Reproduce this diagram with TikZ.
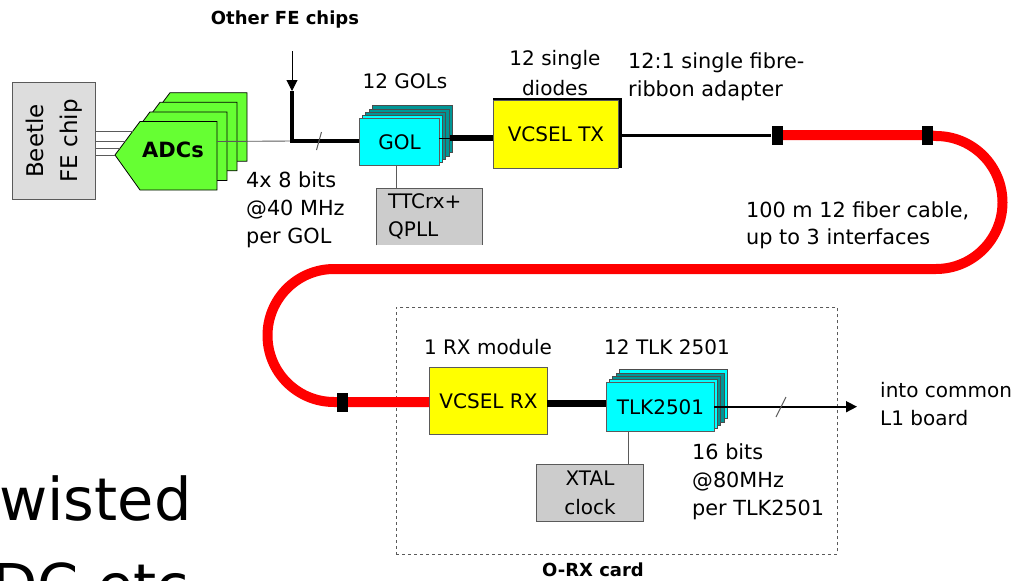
\documentclass[tikz,border=0pt]{standalone}
\usepackage{fontspec}
\setmainfont{DejaVu Sans}
\usetikzlibrary{arrows.meta}
\definecolor{adcg}{RGB}{102,255,51}
\definecolor{chipc}{RGB}{0,255,255}
\definecolor{chipt}{RGB}{0,150,150}
\definecolor{vy}{RGB}{255,255,0}
\definecolor{lg}{RGB}{221,221,221}
\definecolor{mg}{RGB}{204,204,204}
\definecolor{edge}{RGB}{90,90,90}
\tikzset{
 x=1pt,y=-1pt,
 boxn/.style={draw=edge,line width=1pt,inner sep=0pt,anchor=north west,align=center},
 lab/.style={inner sep=0pt,font=\fontsize{20}{28}\selectfont,align=left},
 labw/.style={inner sep=0pt,font=\fontsize{20.8}{28}\selectfont,align=left,anchor=base west},
 labc/.style={lab,align=center},
 labb/.style={inner sep=0pt,font=\fontsize{18}{24}\selectfont\bfseries},
 wire/.style={draw=edge,line width=.9pt},
 fibre/.style={draw=red,line width=10pt},
 conn/.style={fill=black,inner sep=0pt,minimum width=11pt,minimum height=19pt},
 slash/.style={draw=edge,line width=1pt},
 tip/.style={-{Triangle[length=11pt,width=11pt]}},
}
\begin{document}
\begin{tikzpicture}
\useasboundingbox (0,0) rectangle (1013,581);
\clip (0,0) rectangle (1013,581);
% dashed card
\node[draw=edge,dashed,line width=.9pt,inner sep=0pt,anchor=north west,minimum width=441pt,minimum height=247pt] (card) at (396,307) {};
% Beetle
\node[boxn,fill=lg,minimum width=83pt,minimum height=117pt] (beetle) at (12,82) {};
\node[rotate=90,labc,font=\fontsize{23}{34}\selectfont] (beetlet) at (beetle.center) {Beetle\\FE chip};
% ADC stack
\foreach \d in {3,2,1,0}{
 \draw[fill=adcg,draw=black,line width=.8pt,shift={(10*\d,-9.6*\d)}] (115,155) -- (140,121.5) -- (217,121.5) -- (217,190) -- (140,190) -- cycle;
}
\node[labb,font=\fontsize{21}{26}\selectfont\bfseries] (adc) at (173,150) {ADCs};
\foreach \n/\ya/\xa in {1/131/133,2/141/125.5,3/148/120,4/155/115}{
 \coordinate (a\n) at (\xa,\ya);
 \draw[wire] (a\n) -- (beetle.east |- a\n);
}
% GOL stack
\foreach \d/\c in {13/chipt,9.5/chipt,6/chipt,3/chipc}{
 \node[boxn,draw=black!70,line width=.6pt,fill=\c,minimum width=80pt,minimum height=47pt] at (359+\d,118-\d) {};
}
\node[boxn,fill=chipc,minimum width=80pt,minimum height=47pt,font=\fontsize{20}{24}\selectfont] (gol) at (359,118) {GOL};
\node[inner sep=0pt,fill=mg,anchor=north west,minimum width=106pt,minimum height=57pt] (ttc) at (376,188) {};
\draw[draw=edge,line width=1pt] (ttc.south west) -- (ttc.north west) -- (ttc.north east) -- (ttc.south east);
\node[lab,anchor=base west] (ttct) at (388,208) {TTCrx+};
\node[lab,anchor=base west] (qpll) at (388,236) {QPLL};
\coordinate (golb) at (396,165);
\draw[wire] (golb) -- (golb |- ttc.north);
% VCSEL TX
\node[fill=black,inner sep=0pt,anchor=north west,minimum width=129pt,minimum height=70pt] (txb) at (493,97.5) {};
\node[boxn,fill=vy,minimum width=125pt,minimum height=68pt,font=\fontsize{20}{24}\selectfont] (tx) at (493,99.5) {VCSEL TX};
% input wires
\coordinate (merge) at (292,141);
\coordinate (otherS) at (292,51);
\coordinate (otherE) at (292,91);
\draw[wire] (217,141.5) -- (merge);
\draw[line width=1pt,tip] (otherS) -- (otherE);
\draw[line width=4pt] (otherE) -- (merge);
\draw[line width=4pt] (290,141) -- (gol.west |- merge);
\coordinate (s1a) at (321.5,132); \coordinate (s1b) at (316.5,150);
\draw[slash] (s1a) -- (s1b);
\coordinate (g1) at (439,138);
\draw[line width=6.5pt] (450,138) -- (tx.west |- g1);
\draw[line width=1pt] (g1) -- (450,138);
% fibre
\node[conn] (c1) at (777,135) {};
\node[conn] (c2) at (927,135) {};
\node[conn] (c3) at (342.5,402) {};
\draw[line width=3pt] (txb.east |- c1) -- (c1.west);
% VCSEL RX
\node[boxn,fill=vy,minimum width=118pt,minimum height=67pt,font=\fontsize{20}{24}\selectfont] (rx) at (429,367) {VCSEL RX};
\draw[fibre] (c1.center) -- (c2.center) -- (936,136) arc[start angle=-90,end angle=90,radius=66.5] -- (334,269) arc[start angle=-90,end angle=-270,radius=66.5] -- (rx.west |- c3);
\node[conn] at (c1) {};
\node[conn] at (c2) {};
\node[conn] at (c3) {};
% TLK stack
\foreach \d/\c in {13/chipc,9.5/chipt,6/chipt,3/chipc}{
 \node[boxn,draw=black!70,line width=.6pt,fill=\c,minimum width=108pt,minimum height=49pt] at (606+\d,382-\d) {};
}
\node[boxn,fill=chipc,minimum width=108pt,minimum height=49pt,font=\fontsize{20}{24}\selectfont] (tlk) at (606,382) {TLK2501};
\coordinate (r1) at (547,403);
\draw[line width=7pt] (r1) -- (tlk.west |- r1);
\node[boxn,fill=mg,minimum width=107pt,minimum height=57pt] (xtal) at (536,464) {};
\node[labc] (xt) at (590,478) {XTAL};
\node[labc] (cl) at (590,507) {clock};
\coordinate (tb) at (628,431);
\draw[wire] (tb) -- (tb |- xtal.north);
\coordinate (out) at (857,406.7);
\draw[line width=1.6pt,tip] (714,406.7) -- (out);
\coordinate (s2a) at (786,397); \coordinate (s2b) at (776,417);
\draw[slash] (s2a) -- (s2b);
% labels
\node[labb] (t1) at (285,20) {Other FE chips};
\node[labc] (t2) at (405,81) {12 GOLs};
\node[labw] (t3) at (246,187) {4x 8 bits};
\node[labw] (t4) at (246,215) {@40 MHz};
\node[labw] (t5) at (246,243) {per GOL};
\node[labc] (t6) at (555,60) {12 single};
\node[labc] (t7) at (555,88) {diodes};
\node[labw] (t8) at (628,68) {12:1 single fibre-};
\node[labw] (t9) at (628,96) {ribbon adapter};
\node[labw] (t10) at (746,217) {100 m 12 fiber cable,};
\node[labw] (t11) at (746,244) {up to 3 interfaces};
\node[labc] (t12) at (488,347) {1 RX module};
\node[labc] (t13) at (667,347) {12 TLK 2501};
\node[labw] (t14) at (692,459) {16 bits};
\node[labw] (t15) at (692,487) {@80MHz};
\node[labw] (t16) at (692,515) {per TLK2501};
\node[lab,anchor=base west] (t17) at (880,397) {into common};
\node[lab,anchor=base west] (t18) at (880,425) {L1 board};
\node[labb] (t19) at (593,570) {O-RX card};
\node[inner sep=0pt,anchor=base west,font=\fontsize{59}{70}\selectfont] (t20) at (-1,520) {wisted};
\node[inner sep=0pt,anchor=base west,font=\fontsize{59}{70}\selectfont] (t21) at (-8,606) {DC etc};
\end{tikzpicture}
\end{document}
